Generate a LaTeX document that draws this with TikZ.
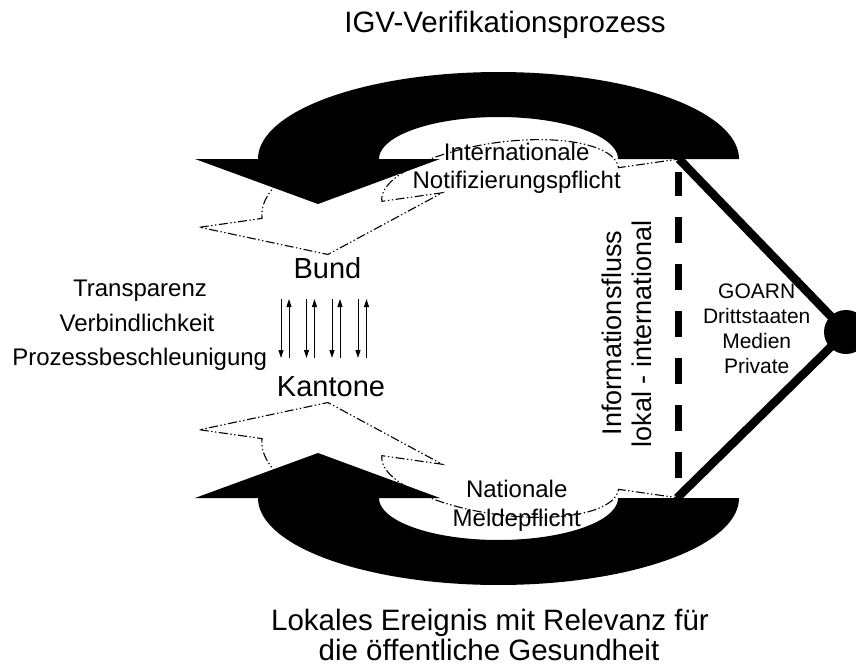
\documentclass[tikz,border=0pt]{standalone}
\usepackage{fontspec}
\setmainfont{Liberation Sans}
\usetikzlibrary{arrows.meta}

% U-turn block arrow: arrow head on the left, base line at y=159.
% #1 = centre x of the outer arc, #2/#3 = its x/y radius.
\newcommand{\turnshape}[3]{%
  (195,159) -- (258,159)
  -- plot[domain=180:0,samples=90] ({#1+#2*cos(\x)},{159-#3*sin(\x)})
  -- (618,159)
  -- plot[domain=0:180,samples=70] ({498.5+119.5*cos(\x)},{159-42*sin(\x)})
  -- (440,159) -- (318,204) -- cycle}

\tikzset{
  ghost/.style={draw=black, line width=1.1pt,
    dash pattern=on 9pt off 2.5pt on 1.4pt off 2.5pt on 1.4pt off 2.5pt},
  solidturn/.style={fill=black},
  lbl/.style={inner sep=0pt, anchor=base},
  huge/.style={lbl, font=\fontsize{29.5}{30}\selectfont},
  big/.style={lbl, font=\fontsize{29}{30}\selectfont},
  mid/.style={lbl, font=\fontsize{24}{28}\selectfont},
  vert/.style={lbl, rotate=90, font=\fontsize{27}{30}\selectfont},
  small/.style={lbl, font=\fontsize{21}{25}\selectfont},
  flow/.style={line width=1pt, -{Triangle[length=8pt,width=5pt]}},
  divider/.style={line width=7pt, dash pattern=on 26.5pt off 20.5pt},
  spoke/.style={line width=8.5pt},
  hubdot/.style={circle, fill=black, minimum size=44pt, inner sep=0pt},
}

\begin{document}
\begin{tikzpicture}[x=1pt,y=-1pt]
\useasboundingbox (0,0) rectangle (856,669);

% upper cycle: dash-dotted trailing arrow, then the solid arrow on top
\begin{scope}
  \draw[ghost, rotate around={8.1:(321,210)}, shift={(3.5,51)}] \turnshape{489}{231}{80};
  \fill[solidturn] \turnshape{498.5}{240.5}{87};
\end{scope}

% lower cycle: mirror image of the upper one
\begin{scope}[shift={(0,657)}, yscale=-1]
  \draw[ghost, rotate around={8.1:(321,210)}, shift={(3.5,51)}] \turnshape{489}{231}{80};
  \fill[solidturn] \turnshape{498.5}{240.5}{87};
\end{scope}

% dashed divider
\coordinate (dtop) at (678,172);
\coordinate (dbot) at (678,478);
\draw[divider] (dbot) -- (dtop);

% external partners hub
\coordinate (topjoin) at (679,159);
\coordinate (botjoin) at (677,498);
\coordinate (hubc) at (846,332);
\draw[spoke] (topjoin) -- (hubc);
\draw[spoke] (botjoin) -- (hubc);
\node[hubdot] (hub) at (hubc) {};

% Bund <-> Kantone exchange
\foreach \i/\xd/\xu in {1/281/289, 2/306.5/314.5, 3/332/340, 4/358/366.5}{
  \coordinate (dnt\i) at (\xd,299);
  \coordinate (dnb\i) at (\xd,358);
  \coordinate (upb\i) at (\xu,358);
  \coordinate (upt\i) at (\xu,299);
  \draw[flow] (dnt\i) -- (dnb\i);
  \draw[flow] (upb\i) -- (upt\i);
}

% labels
\node[huge] (title) at (505,33) {IGV-Verifikationsprozess};
\node[huge] (event1) at (490,630) {Lokales Ereignis mit Relevanz für};
\node[huge] (event2) at (489,660) {die öffentliche Gesundheit};

\node[big] (bund) at (327.5,278) {Bund};
\node[big] (kantone) at (331,396.7) {Kantone};

\node[mid] (transp) at (140,296.7) {Transparenz};
\node[mid] (verb) at (137,331.7) {Verbindlichkeit};
\node[mid] (besch) at (139.7,365) {Prozessbeschleunigung};

\node[mid] (intl1) at (516.7,160) {Internationale};
\node[mid] (intl2) at (516.7,188) {Notifizierungspflicht};
\node[mid] (nat1) at (516.7,497.7) {Nationale};
\node[mid] (nat2) at (516.7,526.7) {Meldepflicht};

\node[vert] (info1) at (621.7,333) {Informationsfluss};
\node[vert] (info2) at (651.2,334) {lokal - international};

\node[small] (goarn) at (756.7,298.3) {GOARN};
\node[small] (dritt) at (756.7,323.3) {Drittstaaten};
\node[small] (medien) at (756.7,348.3) {Medien};
\node[small] (private) at (756.7,373.3) {Private};
\end{tikzpicture}
\end{document}
